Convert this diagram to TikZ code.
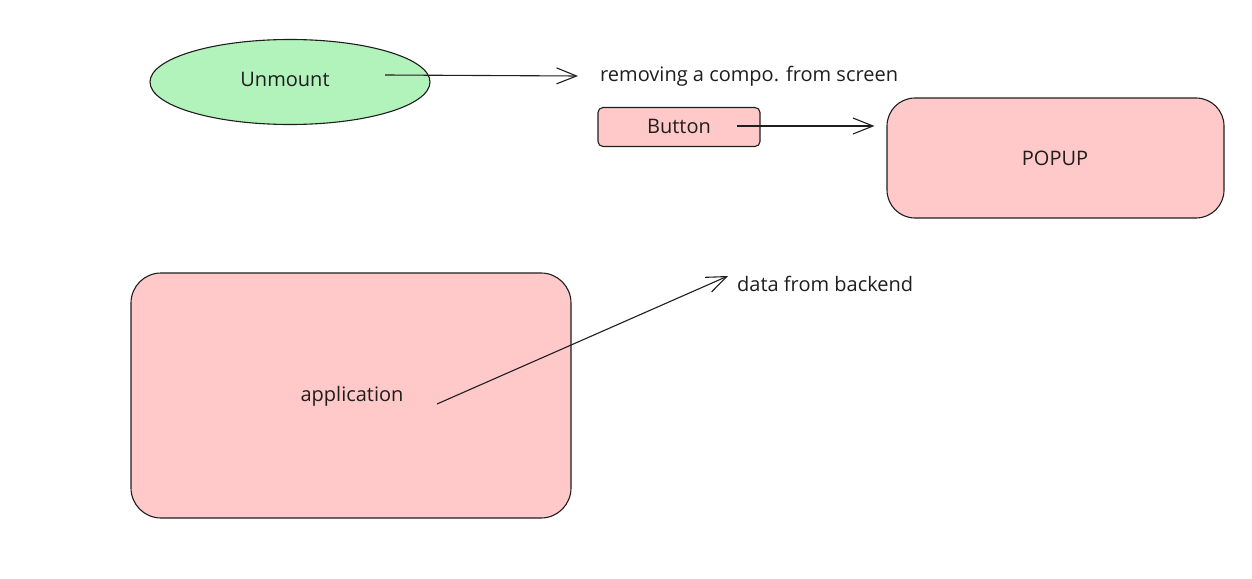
\documentclass[tikz,border=0pt]{standalone}
\usepackage{fontspec}
\setmainfont{Open Sans}
\usetikzlibrary{arrows.meta,shapes.geometric}
\definecolor{grn}{HTML}{B2F2BB}
\definecolor{pnk}{HTML}{FFC9C9}
\definecolor{ink}{HTML}{1E1E1E}
\tikzset{
  every node/.style={font=\fontsize{20}{22}\selectfont, text=ink},
  box/.style={draw=ink, fill=pnk, line width=1.1pt, rounded corners=#1},
  box/.default=6pt,
  arr/.style={draw=ink, line width=1.1pt, -{Straight Barb[length=20pt,width=16pt,line width=1.1pt]}},
  lbl/.style={anchor=west, inner sep=0pt}
}
\begin{document}
\begin{tikzpicture}[x=1pt,y=-1pt]
\useasboundingbox (0,0) rectangle (1252,578);
% Unmount ellipse
\node[ellipse, draw=ink, fill=grn, line width=1.1pt, minimum width=280pt, minimum height=85pt] (unm) at (290,82) {};
\node (unmt) at (285,79) {Unmount};
\node[lbl] (rem) at (600,76) {removing a compo. from screen};
\coordinate (unmA) at (385,75);
\draw[arr] (unmA) -- (rem.west -| 578,0);
% Button
\node[box=5pt, minimum width=162pt, minimum height=39pt] (btn) at (679,127) {};
\node (btnt) at (679,126) {Button};
\coordinate (btnA) at (737,126);
% POPUP
\node[box=28pt, minimum width=337pt, minimum height=120pt] (pop) at (1055.5,158) {};
\node (popt) at (1055,158) {POPUP};
\draw[arr] (btnA) -- ([xshift=-12pt]pop.west |- btnA);
% application
\node[box=30pt, minimum width=440pt, minimum height=245pt] (app) at (351,395.5) {};
\node (appt) at (352,396) {application};
\node[lbl] (data) at (737,284) {data from backend};
\coordinate (appA) at (437,404);
\draw[arr] (appA) -- ([xshift=-9pt,yshift=8pt]data.west);
\end{tikzpicture}
\end{document}
